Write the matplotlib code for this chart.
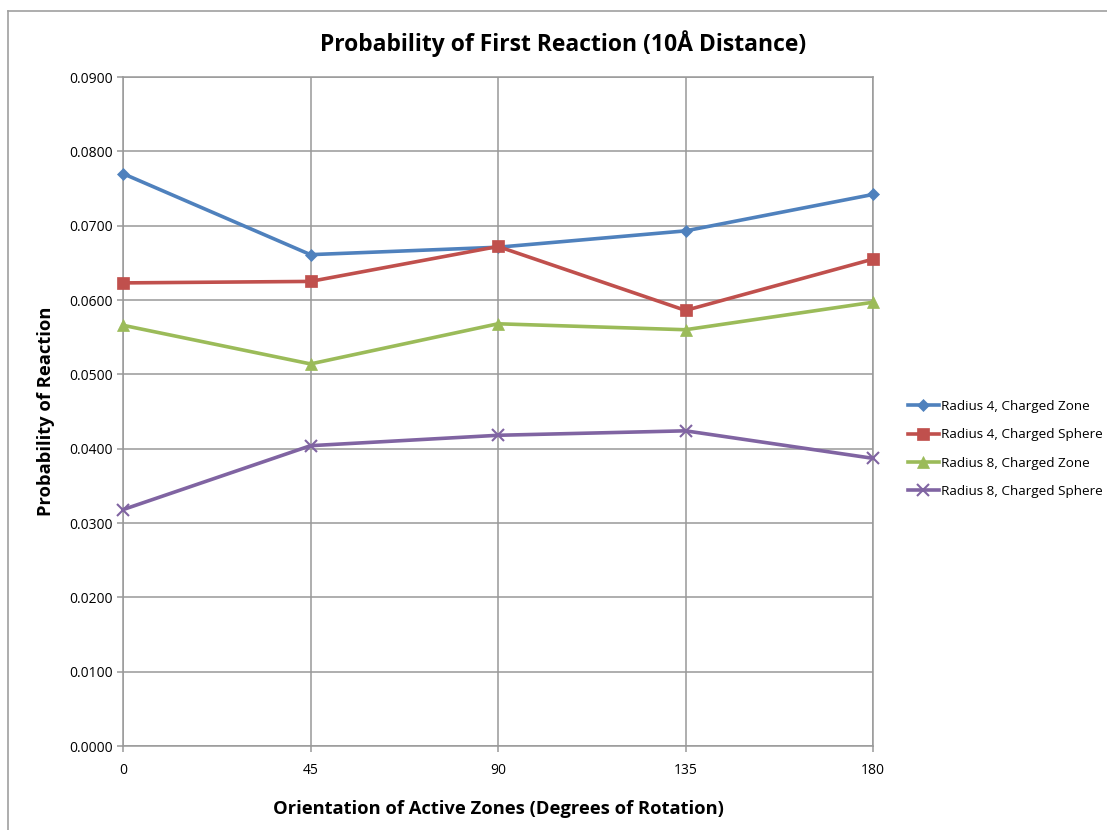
import matplotlib.pyplot as plt
from matplotlib.lines import Line2D

# data
angles = [0, 45, 90, 135, 180]
r4_zone = [0.0770, 0.0661, 0.0671, 0.0693, 0.0742]
r4_sphere = [0.0623, 0.0625, 0.0672, 0.0586, 0.0655]
r8_zone = [0.0566, 0.0514, 0.0568, 0.0560, 0.0597]
r8_sphere = [0.0318, 0.0404, 0.0418, 0.0424, 0.0387]

series_names = ['Radius 4, Charged Zone', 'Radius 4, Charged Sphere',
                'Radius 8, Charged Zone', 'Radius 8, Charged Sphere']
colors = ['#4F81BD', '#C0504D', '#9BBB59', '#8064A2']
markers = ['D', 's', '^', 'x']
msizes = [6, 8, 8, 8]

plt.rcParams['font.family'] = ['Open Sans', 'DejaVu Sans']

fig = plt.figure(figsize=(11.07, 8.30), dpi=100)

# outer chart border (only top and left visible in the crop)
fig.add_artist(Line2D([8 / 1107, 8 / 1107], [0, 1 - 11 / 830], color='#a0a0a0', lw=1.2))
fig.add_artist(Line2D([8 / 1107, 1], [1 - 11 / 830, 1 - 11 / 830], color='#a0a0a0', lw=1.2))

ax = fig.add_axes([123 / 1107, 1 - 746 / 830, 750 / 1107, 669 / 830])

all_series = [r4_zone, r4_sphere, r8_zone, r8_sphere]
for vals, name, c, m, ms in zip(all_series, series_names, colors, markers, msizes):
    ax.plot(angles, vals, color=c, lw=2.6, marker=m, markersize=ms,
            markeredgewidth=1.5 if m == 'x' else 0.5, markeredgecolor=c,
            label=name, clip_on=False, zorder=3)

ax.set_xlim(0, 180)
ax.set_ylim(0, 0.09)
ax.set_xticks(angles)
ax.set_yticks([i * 0.01 for i in range(10)])
ax.set_yticklabels([f'{i * 0.01:.4f}' for i in range(10)])
ax.grid(True, color='#999999', lw=1.1)
ax.set_axisbelow(True)
for s in ax.spines.values():
    s.set_color('#999999')
    s.set_linewidth(1.1)
ax.tick_params(axis='both', colors='#999999', labelcolor='black', labelsize=10,
               length=4, width=1.1)
ax.tick_params(axis='x', pad=8)

# title sits centred on the whole chart area, not on the plot
fig.text(563 / 1107, 1 - 44 / 830, 'Probability of First Reaction (10Å Distance)',
         fontsize=16.5, fontweight='bold', ha='center', va='center')
ax.set_xlabel('Orientation of Active Zones (Degrees of Rotation)', fontsize=13.2,
              fontweight='bold', labelpad=16)
ax.set_ylabel('Probability of Reaction', fontsize=13.2, fontweight='bold', labelpad=10)

ax.legend(loc='center left', bbox_to_anchor=(1.03, 0.444), frameon=False,
          fontsize=9.7, handlelength=2.3, handletextpad=0.2, labelspacing=1.15)

plt.savefig('out.png', dpi=100)
